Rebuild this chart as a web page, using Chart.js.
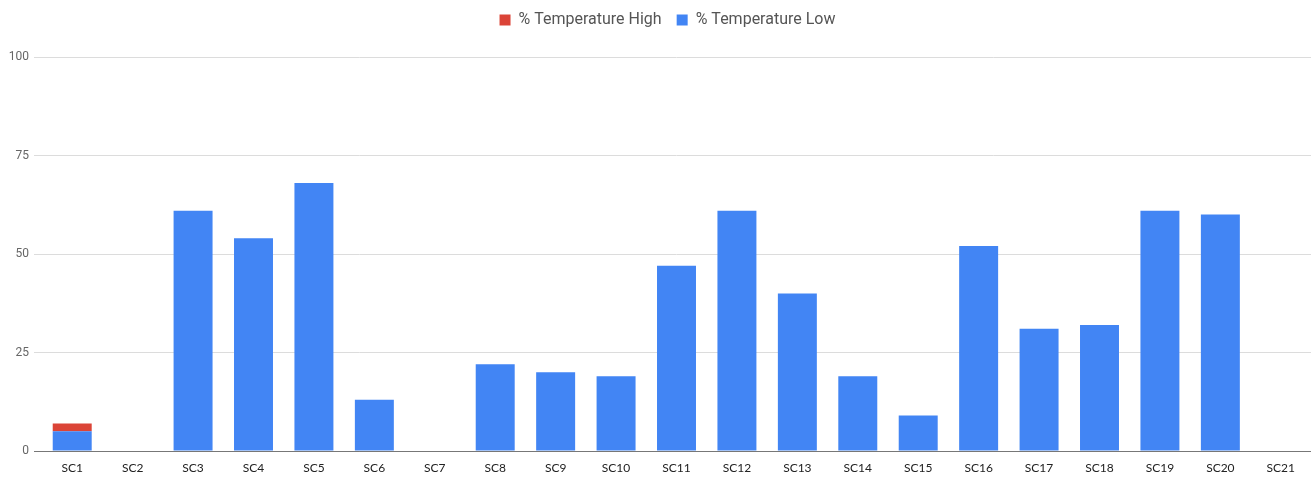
<!DOCTYPE html>
<html>
<head>
<meta charset="utf-8">
<script src="https://cdn.jsdelivr.net/npm/chart.js@4/dist/chart.umd.min.js"></script>
<style>
  html, body { margin: 0; padding: 0; background: #fff; overflow: hidden; }
  #wrap { width: 1311px; height: 477px; position: relative; }
</style>
</head>
<body>
<div id="wrap"><canvas id="c"></canvas></div>
<script>
const categories = ['SC1','SC2','SC3','SC4','SC5','SC6','SC7','SC8','SC9','SC10','SC11',
                    'SC12','SC13','SC14','SC15','SC16','SC17','SC18','SC19','SC20','SC21'];
const tempHigh = [2, 0, 0, 0, 0, 0, 0, 0, 0, 0, 0, 0, 0, 0, 0, 0, 0, 0, 0, 0, 0];
const tempLow  = [5, 0, 61, 54, 68, 13, 0, 22, 20, 19, 47, 61, 40, 19, 9, 52, 31, 32, 61, 60, 0];
const yTicks = [0, 25, 50, 75, 100];

// extra room below the legend, and centre the legend over the plot area
const legendSpacer = {
  id: 'legendSpacer',
  beforeInit(chart) {
    const legend = chart.legend;
    const fit = legend.fit;
    legend.fit = function () {
      fit.call(this);
      this.height += 16;
    };
    const draw = legend.draw;
    legend.draw = function () {
      const ctx = this.ctx;
      ctx.save();
      ctx.translate(12, -3);
      draw.call(this);
      ctx.restore();
    };
  }
};

new Chart(document.getElementById('c'), {
  type: 'bar',
  data: {
    labels: categories,
    datasets: [
      { label: '% Temperature Low', data: tempLow, backgroundColor: '#4285F4',
        borderWidth: 0, barPercentage: 0.645, categoryPercentage: 1 },
      { label: '% Temperature High', data: tempHigh, backgroundColor: '#DB4437',
        borderWidth: 0, barPercentage: 0.645, categoryPercentage: 1 }
    ]
  },
  plugins: [legendSpacer],
  options: {
    responsive: true,
    maintainAspectRatio: false,
    animation: false,
    layout: { padding: { left: 0, right: 0, top: 0, bottom: 0 } },
    plugins: {
      tooltip: { enabled: false },
      legend: {
        position: 'top',
        reverse: true,
        labels: {
          boxWidth: 11, boxHeight: 11, padding: 15,
          color: '#555', font: { family: 'Roboto', size: 16 }
        }
      }
    },
    scales: {
      x: {
        stacked: true,
        grid: { display: false },
        border: { display: true, color: '#777', width: 1 },
        afterFit: s => { s.height = 26; },
        ticks: { color: '#222', font: { family: 'Lato', size: 12 }, padding: 2, maxRotation: 0, autoSkip: false }
      },
      y: {
        stacked: true,
        min: 0, max: 100,
        afterBuildTicks: s => { s.ticks = yTicks.map(v => ({ value: v })); },
        afterFit: s => { s.width = 42; },
        grid: { color: ctx => ctx.tick && ctx.tick.value === 0 ? '#777' : '#dcdcdc', tickLength: 8, drawTicks: true },
        border: { display: false },
        ticks: { color: '#666', font: { family: 'Roboto', size: 12 }, padding: 5 }
      }
    }
  }
});
</script>
</body>
</html>
